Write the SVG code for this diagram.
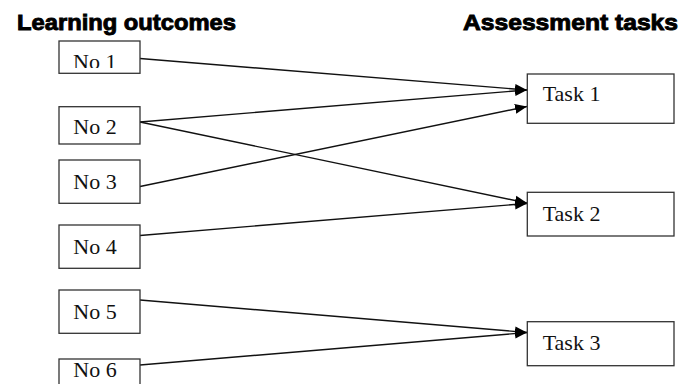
<svg xmlns="http://www.w3.org/2000/svg" width="691" height="384" viewBox="0 0 691 384">
<style>
.box{fill:#fff;stroke:#333;stroke-width:1.3}
.lbl{font-family:"Liberation Serif","Times New Roman",serif;font-size:22px;fill:#111}
.ttl{font-family:"Liberation Sans",Arial,sans-serif;font-weight:bold;font-size:22px;fill:#000;stroke:#000;stroke-width:0.9}
.edge{stroke:#111;stroke-width:1.4;fill:none;marker-end:url(#ah)}
</style>
<defs>
<marker id="ah" markerWidth="12" markerHeight="12" viewBox="0 0 12 12" refX="12" refY="6" orient="auto" markerUnits="userSpaceOnUse">
<path d="M0,1 L12,6 L0,11 Z" fill="#000"/>
</marker>
<clipPath id="c1"><rect x="59" y="41" width="81" height="27"/></clipPath>
</defs>
<rect width="691" height="384" fill="#fff"/>
<text class="ttl" x="17" y="30" textLength="219" lengthAdjust="spacingAndGlyphs">Learning outcomes</text>
<text class="ttl" x="463" y="30" textLength="215" lengthAdjust="spacingAndGlyphs">Assessment tasks</text>
<g id="connectors">
<line class="edge" x1="140" y1="58.5" x2="527" y2="90"/>
<line class="edge" x1="140" y1="122" x2="527" y2="90"/>
<line class="edge" x1="140" y1="186.5" x2="527" y2="106.5"/>
<line class="edge" x1="140" y1="122" x2="527" y2="203"/>
<line class="edge" x1="140" y1="235.5" x2="527" y2="203.5"/>
<line class="edge" x1="140" y1="300" x2="527" y2="332.5"/>
<line class="edge" x1="140" y1="365" x2="527" y2="332.5"/>
</g>
<g id="no1"><rect class="box" x="59" y="41" width="81" height="32.3"/><text class="lbl" x="73" y="68.5" clip-path="url(#c1)">No 1</text></g>
<g id="no2"><rect class="box" x="59" y="106.7" width="81" height="37.3"/><text class="lbl" x="73.3" y="134.3">No 2</text></g>
<g id="no3"><rect class="box" x="59" y="160" width="81" height="43.3"/><text class="lbl" x="73.3" y="189">No 3</text></g>
<g id="no4"><rect class="box" x="59" y="225" width="81" height="43.3"/><text class="lbl" x="73.3" y="254">No 4</text></g>
<g id="no5"><rect class="box" x="59" y="290" width="81" height="43.3"/><text class="lbl" x="73.3" y="319">No 5</text></g>
<g id="no6"><rect class="box" x="59" y="359" width="81" height="40"/><text class="lbl" x="73.3" y="376.7">No 6</text></g>
<g id="task1"><rect class="box" x="527.3" y="74" width="146.7" height="49.3"/><text class="lbl" x="542.7" y="100.5">Task 1</text></g>
<g id="task2"><rect class="box" x="527.3" y="192.3" width="146.7" height="43.7"/><text class="lbl" x="542.7" y="220.5">Task 2</text></g>
<g id="task3"><rect class="box" x="527.3" y="321.7" width="146.7" height="44"/><text class="lbl" x="542.7" y="350">Task 3</text></g>
</svg>
